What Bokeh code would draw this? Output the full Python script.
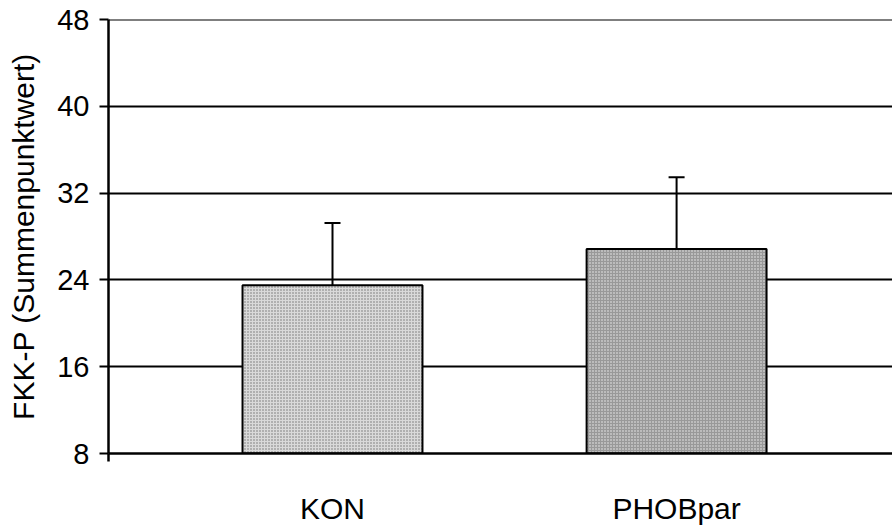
from bokeh.plotting import figure
from bokeh.models import (ColumnDataSource, FixedTicker, Whisker, TeeHead,
                          Range1d, Span)
from bokeh.embed import file_html
from bokeh.resources import INLINE

# ---- data -------------------------------------------------------------
categories = ["KON", "PHOBpar"]
means = [23.5, 26.85]
errors = [5.74, 6.62]
y_ticks = [8, 16, 24, 32, 40, 48]
y_label = "FKK-P (Summenpunktwert)"

# ---- layout helpers ---------------------------------------------------
xs = [i + 1 for i in range(len(categories))]
x_start, x_end = 0.349, 2.6275
y_start, y_end = y_ticks[0], y_ticks[-1]
FONT = "Liberation Sans"

fills = ["#dadada", "#999999"]
hatch_cols = ["#6f6f6f", "#f0f0f0"]

src = ColumnDataSource(dict(
    x=xs,
    top=means,
    upper=[m + e for m, e in zip(means, errors)],
    fill=fills,
    hatch=hatch_cols,
))

p = figure(width=892, height=527, output_backend="svg", toolbar_location=None,
           x_range=Range1d(x_start, x_end), y_range=Range1d(y_start, y_end),
           min_border_left=108, min_border_right=0, min_border_top=19,
           min_border_bottom=73)
p.outline_line_color = None
p.background_fill_color = "white"
p.border_fill_color = "white"

# bars
p.vbar(x="x", top="top", bottom=y_start, width=0.523, source=src,
       fill_color="fill", line_color="black", line_width=2,
       hatch_pattern="dot", hatch_color="hatch", hatch_scale=3,
       hatch_weight=1)

# error bars (upper only)
w = Whisker(source=src, base="x", upper="upper", lower="top",
            dimension="height", line_color="black", line_width=2,
            upper_head=TeeHead(size=16, line_color="black", line_width=2),
            lower_head=None, level="annotation")
p.add_layout(w)

# y axis
yax = p.yaxis[0]
yax.ticker = FixedTicker(ticks=y_ticks)
yax.axis_line_width = 2.5
yax.axis_line_color = "black"
yax.major_tick_line_width = 2
yax.major_tick_line_color = "black"
yax.major_tick_out = 9
yax.major_tick_in = 0
yax.minor_tick_line_color = None
yax.major_label_text_font = FONT
yax.major_label_text_font_size = "29px"
yax.major_label_text_color = "black"
yax.major_label_standoff = 10
yax.axis_label = y_label
yax.axis_label_text_font = FONT
yax.axis_label_text_font_size = "30px"
yax.axis_label_text_font_style = "normal"
yax.axis_label_text_color = "black"
yax.axis_label_standoff = 14

# x axis
xax = p.xaxis[0]
xax.ticker = FixedTicker(ticks=xs, minor_ticks=[x_start + 0.0005])
xax.major_label_overrides = {x: c for x, c in zip(xs, categories)}
xax.axis_line_width = 2.5
xax.axis_line_color = "black"
xax.major_tick_line_color = None
xax.major_tick_out = 0
xax.major_tick_in = 0
xax.minor_tick_line_color = "black"
xax.minor_tick_line_width = 2.5
xax.minor_tick_out = 8
xax.minor_tick_in = 0
xax.major_label_text_font = FONT
xax.major_label_text_font_size = "30px"
xax.major_label_text_color = "black"
xax.major_label_standoff = 30

# grid
p.xgrid.grid_line_color = None
p.ygrid.ticker = FixedTicker(ticks=y_ticks)
p.ygrid.grid_line_color = "black"
p.ygrid.grid_line_width = 2
p.add_layout(Span(location=y_end, dimension="width", line_color="black",
                  line_width=2))

open("out.html", "w").write(file_html(p, INLINE))
